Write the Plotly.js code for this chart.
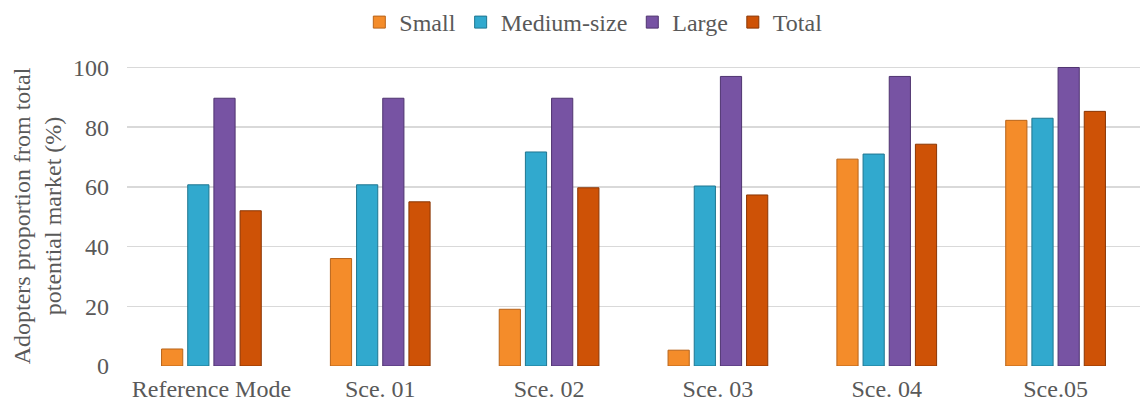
<!DOCTYPE html>
<html><head><meta charset="utf-8">
<script src="https://cdn.plot.ly/plotly-3.0.1.min.js"></script>
<style>html,body{margin:0;padding:0;background:#fff}</style>
</head><body><div id="chart" style="width:1141px;height:407px"></div>
<script>
const categories = ["Reference Mode", "Sce. 01", "Sce. 02", "Sce. 03", "Sce. 04", "Sce.05"];
const small = [5.7, 36, 19, 5.3, 69.3, 82.3];
const medium = [60.7, 60.7, 71.7, 60.3, 71, 83];
const large = [89.7, 89.7, 89.7, 97, 97, 100];
const total = [52, 55, 59.7, 57.3, 74.3, 85.3];
const yTicks = [0, 20, 40, 60, 80, 100];

const series = [
  {name: "Small", y: small, color: "#F48C2A", line: "#B8641A"},
  {name: "Medium-size", y: medium, color: "#31A9CE", line: "#1F7690"},
  {name: "Large", y: large, color: "#7753A3", line: "#4F3470"},
  {name: "Total", y: total, color: "#CE5206", line: "#8A3604"}
];
const traces = series.map(s => ({
  type: "bar", name: s.name, x: categories, y: s.y,
  marker: {color: s.color, line: {color: s.line, width: 1}}
}));
const fam = "Times New Roman, Liberation Serif, serif";
const font = {family: fam, size: 24, color: "#595959"};
Plotly.newPlot("chart", traces, {
  width: 1141, height: 407,
  margin: {l: 127, r: 1, t: 66, b: 41, autoexpand: false},
  paper_bgcolor: "#fff", plot_bgcolor: "#fff",
  font: font,
  barmode: "group", bargap: 0.38, bargroupgap: 0.19,
  showlegend: true,
  legend: {orientation: "h", x: 0.52, xanchor: "center", xref: "container", y: 1, yref: "container", yanchor: "top",
    font: {family: fam, size: 24, color: "#595959"}, itemwidth: 30, traceorder: "normal"},
  xaxis: {tickfont: font, showgrid: false, zeroline: false, showline: false, ticks: "", fixedrange: true, automargin: false,
    ticklabelstandoff: 6},
  yaxis: {range: [0, 100.5], tickvals: yTicks, ticktext: yTicks.map(String), tickfont: font, automargin: false,
    ticklabelstandoff: 17,
    gridcolor: "#D9D9D9", gridwidth: 1.5, zeroline: false, showline: false, ticks: "", ticklen: 0,
    title: {text: "Adopters proportion from total<br>potential market (%)", font: {family: fam, size: 24, color: "#595959"}, standoff: 4}}
}, {displayModeBar: false, staticPlot: true});
</script></body></html>
